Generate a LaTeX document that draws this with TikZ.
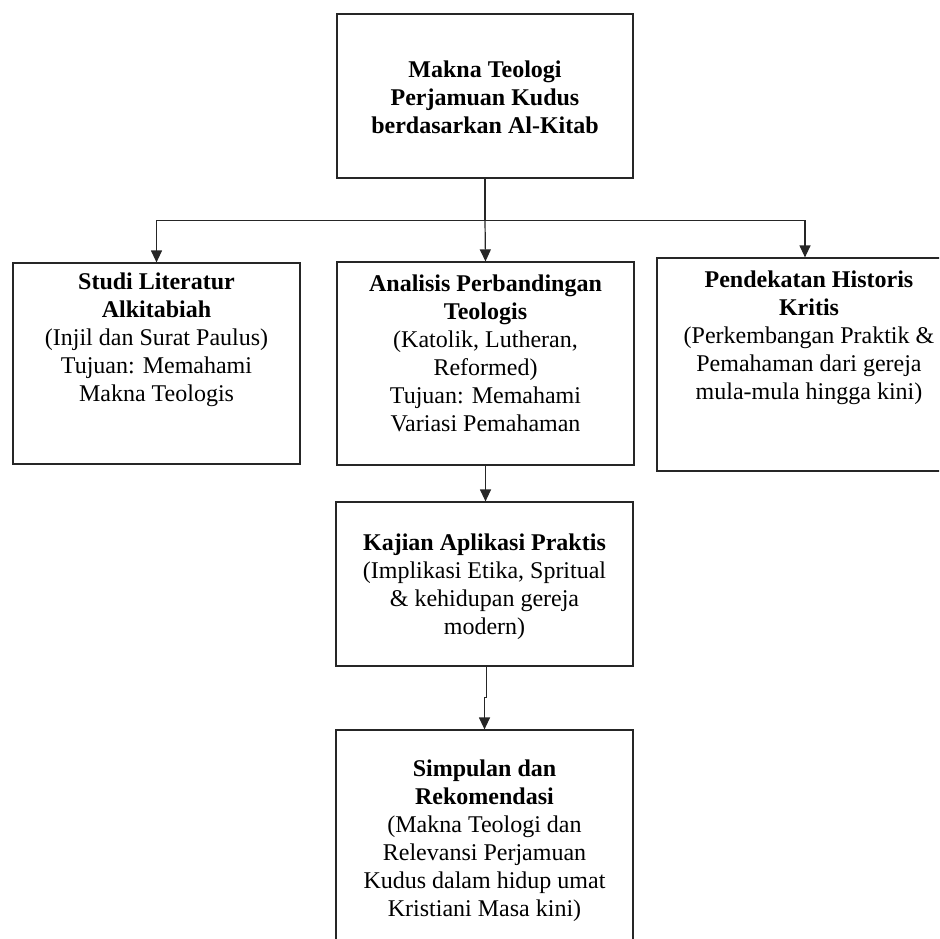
\documentclass[tikz,border=0pt]{standalone}
\usepackage{fontspec}
\setmainfont{Liberation Serif}
\usetikzlibrary{arrows.meta}
\tikzset{
  box/.style={draw=black!85, line width=1.2pt, rectangle, inner sep=0pt},
  label/.style={align=center, inner sep=0pt, font=\fontsize{24}{28}\selectfont},
  link/.style={draw=black!85, line width=1.2pt},
  arr/.style={link, -{Triangle[width=11pt,length=12pt]}}
}
\begin{document}
\begin{tikzpicture}[x=1pt,y=-1pt]
\useasboundingbox (0,0) rectangle (939,939);
\clip (0,0) rectangle (939,939);
% boxes
\node[box, minimum width=296pt, minimum height=164pt] (top) at (485,96) {};
\node[box, minimum width=287pt, minimum height=201pt] (left) at (156.5,363.5) {};
\node[box, minimum width=297pt, minimum height=203pt] (mid) at (485.5,363.5) {};
\node[box, minimum width=296pt, minimum height=213pt] (right) at (805,364.5) {};
\node[box, minimum width=297pt, minimum height=164pt] (kaj) at (484.5,584) {};
\node[box, minimum width=297pt, minimum height=230pt] (simp) at (484.5,845) {};
% texts
\node[label] (ttop) at (485,97) {\textbf{Makna Teologi}\\\textbf{Perjamuan Kudus}\\\textbf{berdasarkan Al-Kitab}};
\node[label] (tleft) at (156.5,339.5) {\textbf{Studi Literatur}\\\textbf{Alkitabiah}\\(Injil dan Surat Paulus)\\Tujuan: Memahami\\Makna Teologis};
\node[label] (tmid) at (485.5,353) {\textbf{Analisis Perbandingan}\\\textbf{Teologis}\\(Katolik, Lutheran,\\Reformed)\\Tujuan: Memahami\\Variasi Pemahaman};
\node[label] (tright) at (809,337.5) {\textbf{Pendekatan Historis}\\\textbf{Kritis}\\(Perkembangan Praktik \&\\Pemahaman dari gereja\\mula-mula hingga kini)};
\node[label] (tkaj) at (484.5,586.5) {\textbf{Kajian Aplikasi Praktis}\\(Implikasi Etika, Spritual\\\& kehidupan gereja\\modern)};
\node[label] (tsimp) at (484.5,841) {\textbf{Simpulan dan}\\\textbf{Rekomendasi}\\(Makna Teologi dan\\Relevansi Perjamuan\\Kudus dalam hidup umat\\Kristiani Masa kini)};
% connectors
\path (top.south) ++(0,42) coordinate (hub);
\draw[link] (top.south) -- (hub);
\draw[arr] (hub) -| (left.north);
\draw[arr] (hub) -| (right.north);
\draw[arr] (hub) -- (mid.north);
\draw[arr] (mid.south) -- (mid.south |- kaj.north);
\path (kaj.south) ++(2,31) coordinate (jog);
\draw[arr] (kaj.south) ++(2,0) -- (jog) -- (jog -| simp.north) -- (simp.north);
\end{tikzpicture}
\end{document}
